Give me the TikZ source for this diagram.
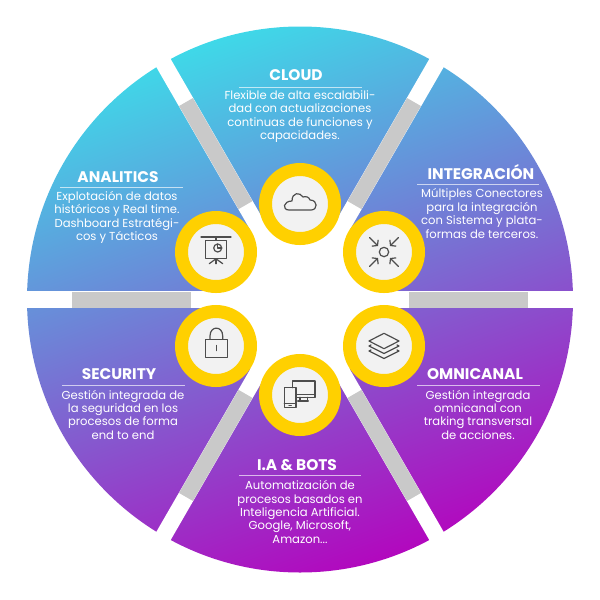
\documentclass[tikz,border=0pt]{standalone}
\usepackage{fontspec}
\setmainfont{Poppins}
\usetikzlibrary{arrows.meta}
\definecolor{discTop}{HTML}{3FD8E8}
\definecolor{discMid}{HTML}{7A70D6}
\definecolor{discBottom}{HTML}{B208BE}
\definecolor{barGrey}{HTML}{C9C9C9}
\definecolor{ringGold}{HTML}{FFD000}
\definecolor{ringFace}{HTML}{F2F2F2}
\definecolor{iconInk}{HTML}{4D4D4D}
\tikzset{
    spokegap/.style={white, line width=16.5pt},
    spokebar/.style={barGrey, line width=16pt},
    ringnode/.style={circle, draw=ringGold, fill=ringFace, line width=13pt, minimum size=69pt, inner sep=0pt, outer sep=0pt},
    sectitle/.style={white, font=\fontsize{15.4}{17}\selectfont\bfseries, inner sep=0pt},
    sectext/.style={white, align=center, font=\fontsize{11.6}{13.35}\selectfont, inner sep=0pt},
    titlerule/.style={white, opacity=0.65, line width=0.9pt},
    iconline/.style={iconInk, line width=1.2pt, line join=round, line cap=round},
}
\begin{document}
\begin{tikzpicture}[x=1pt, y=-1pt]
    \useasboundingbox (0,0) rectangle (600,600);
    \coordinate (hub) at (300,299.5);
    \shade[top color=discTop, middle color=discMid, bottom color=discBottom, shading angle=20] (hub) circle [radius=273];
    \foreach \a in {0,60,...,300} {
        \draw[spokegap] (hub) -- ([shift={(\a:285)}]hub);
        \draw[spokebar] ([shift={(\a:109)}]hub) -- ([shift={(\a:228)}]hub);
    }
    \fill[white] (hub) circle [radius=85];
    % rings
    \node[ringnode] (cloud) at (300,204) {};
    \node[ringnode] (analitics) at (216,252) {};
    \node[ringnode] (integracion) at (384,252) {};
    \node[ringnode] (security) at (216,346) {};
    \node[ringnode] (omnicanal) at (384,346) {};
    \node[ringnode] (bots) at (300,395) {};
    % icons
    \begin{scope}[shift={(cloud.center)}, y=1pt]
        \draw[iconline] (-11,-6) -- (11,-6) .. controls (18,-6) and (18,4) .. (10,4) .. controls (9,7) and (6,8) .. (3,7) .. controls (0,12) and (-8,12) .. (-8,3) .. controls (-17,3) and (-18,-6) .. (-11,-6) -- cycle;
    \end{scope}
    \begin{scope}[shift={(analitics.center)}, y=1pt]
        \draw[iconline] (-15,15) -- (15,15);
        \draw[iconline] (0,15) -- (0,11.7);
        \draw[iconline] (-10.7,11.7) rectangle (10.7,-6.7);
        \draw[iconline] (1.7,4) circle [radius=4];
        \draw[iconline] (1.7,8) -- (1.7,4) -- (5.7,4);
        \draw[iconline] (0,-6.7) -- (-6.7,-11.7);
        \draw[iconline] (0,-6.7) -- (6.7,-11.7);
        \draw[iconline] (0,-6.7) -- (0,-11.7);
    \end{scope}
    \begin{scope}[shift={(integracion.center)}, y=1pt, >={Straight Barb[length=3.5pt,width=9pt]}]
        \draw[iconline] (0,0) circle [radius=4.7];
        \foreach \sx in {-1,1} {
            \foreach \sy in {-1,1} {
                \draw[iconline, ->] (14.5*\sx,14.5*\sy) -- (6*\sx,6*\sy);
            }
        }
    \end{scope}
    \begin{scope}[shift={(security.center)}, y=1pt]
        \draw[iconline] (-10.7,6.7) rectangle (11.7,-11.7);
        \draw[iconline] (-6,6.7) -- (-6,10) .. controls (-6,20.5) and (6.7,20.5) .. (6.7,10) -- (6.7,6.7);
        \draw[iconline, line width=1.5pt] (0.7,0.5) -- (0.7,-4.5);
    \end{scope}
    \begin{scope}[shift={(omnicanal.center)}, y=1pt]
        \draw[iconline] (0,12.7) -- (-15,5) -- (0,-2.7) -- (15,5) -- cycle;
        \draw[iconline] (-13,1) -- (-15,0) -- (0,-7.5) -- (15,0) -- (13,1);
        \draw[iconline] (-13,-4) -- (-15,-5) -- (0,-12.5) -- (15,-5) -- (13,-4);
    \end{scope}
    \begin{scope}[shift={(bots.center)}, y=1pt]
        \draw[iconline] (-7.7,7.3) -- (-7.7,14) -- (15,14) -- (15,-2.3) -- (-4,-2.3);
        \draw[iconline] (-4,0.7) -- (15,0.7);
        \draw[iconline] (0,-2.3) -- (0,-6);
        \draw[iconline] (7.3,-2.3) -- (7.3,-6);
        \draw[iconline] (-2.3,-6) -- (8.3,-6);
        \draw[iconline] (-15.7,7.3) rectangle (-4,-12.3);
        \draw[iconline] (-15.7,-8.3) -- (-4,-8.3);
        \draw[iconline] (-11,-10.3) -- (-8.7,-10.3);
    \end{scope}
    % labels
    \node[sectitle] (cloudtitle) at (296,75) {CLOUD};
    \draw[titlerule] (239,87) -- (362,87);
    \node[sectext] (cloudtext) at (300,116.5) {Flexible de alta escalabili-\\dad con actualizaciones\\continuas de funciones y\\capacidades.};
    \node[sectitle] (analiticstitle) at (118,177) {ANALITICS};
    \draw[titlerule] (60,187) -- (183,187);
    \node[sectext] (analiticstext) at (117,217.5) {Explotación de datos\\históricos y Real time.\\Dashboard Estratégi-\\cos y Tácticos};
    \node[sectitle] (integraciontitle) at (481,172.5) {INTEGRACIÓN};
    \draw[titlerule] (417,184) -- (539,184);
    \node[sectext] (integraciontext) at (482,213.5) {Múltiples Conectores\\para la integración\\con Sistema y plata-\\formas de terceros.};
    \node[sectitle] (securitytitle) at (119,374) {SECURITY};
    \draw[titlerule] (62,385) -- (185,385);
    \node[sectext] (securitytext) at (123,414.5) {Gestión integrada de\\la seguridad en los\\procesos de forma\\end to end};
    \node[sectitle] (omnicanaltitle) at (475,374) {OMNICANAL};
    \draw[titlerule] (417,385) -- (540,385);
    \node[sectext] (omnicanaltext) at (478,414.5) {Gestión integrada\\omnicanal con\\traking transversal\\de acciones.};
    \node[sectitle] (botstitle) at (297,465) {I.A \& BOTS};
    \draw[titlerule] (239,475) -- (361,475);
    \node[sectext] (botstext) at (300,512) {Automatización de\\procesos basados en\\Inteligencia Artificial.\\Google, Microsoft,\\Amazon...};
\end{tikzpicture}
\end{document}
